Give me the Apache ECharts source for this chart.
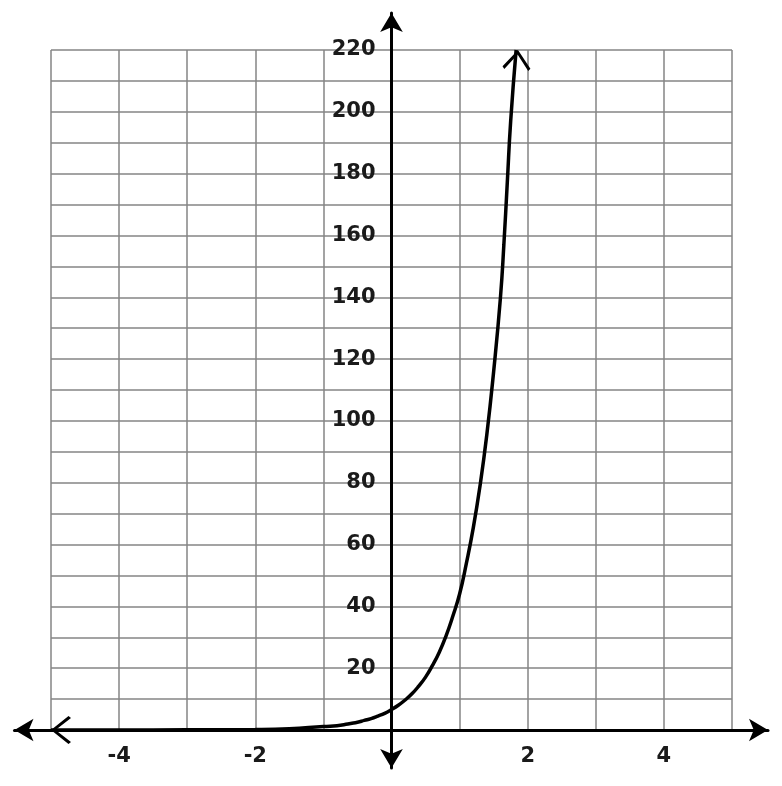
<!DOCTYPE html>
<html>
<head>
<meta charset="utf-8">
<script src="https://cdn.jsdelivr.net/npm/echarts@6/dist/echarts.min.js"></script>
<style>
  html, body { margin: 0; padding: 0; background: #fff; }
  #chart { width: 782px; height: 786px; }
</style>
</head>
<body>
<div id="chart"></div>
<script>
  // curve points
  var curveX = [-5, -4, -3, -2, -1.5, -1, -0.9, -0.8, -0.7, -0.6, -0.5, -0.4, -0.3, -0.2, -0.1,
    0, 0.1, 0.2, 0.3, 0.4, 0.5, 0.6, 0.7, 0.8, 0.9, 1, 1.1, 1.2, 1.3, 1.4, 1.5, 1.6, 1.65, 1.7, 1.75, 1.83]
  var curveY = [0, 0.02, 0.06, 0.15, 0.4, 1.1, 1.2, 1.4, 1.7, 2.1, 2.5, 3.1, 3.7, 4.5, 5.4,
    6.6, 8, 9.7, 11.7, 14.2, 17.1, 20.8, 25.1, 30.4, 36.8, 44, 54, 65.3, 79, 95.6, 116, 140, 157, 177, 197, 220]
  var xTickLabels = [-4, -2, 2, 4]
  var yTickLabels = [20, 40, 60, 80, 100, 120, 140, 160, 180, 200, 220]

  // open arrow head, tip pointing up
  var chevron = 'path://M14,0 L28,17.5 L26,20 L14,4.5 L2,20 L0,17.5 Z'

  var curveData = curveX.map(function (x, i) {
    return [x, curveY[i]]
  })
  curveData[0] = {
    value: curveData[0],
    symbol: chevron,
    symbolSize: [28, 20],
    symbolRotate: 90,
    symbolOffset: [10, 0]
  }
  var last = curveData.length - 1
  curveData[last] = {
    value: curveData[last],
    symbol: chevron,
    symbolSize: [28, 20],
    symbolRotate: -5,
    symbolOffset: [1, 10]
  }

  var labelStyle = {
    fontFamily: 'DejaVu Sans',
    fontWeight: 'bold',
    fontSize: 21,
    color: '#1a1a1a'
  }

  var option = {
    animation: false,
    backgroundColor: '#fff',
    grid: [
      { left: 51, right: 50, top: 50, bottom: 56, outerBoundsMode: 'none' },
      { left: 14.5, right: 14, top: 13, bottom: 18, outerBoundsMode: 'none' }
    ],
    xAxis: [
      {
        type: 'value',
        gridIndex: 0,
        min: -5,
        max: 5,
        interval: 1,
        axisLine: { show: false, onZero: false },
        axisTick: { show: false },
        splitLine: { show: true, lineStyle: { color: '#858585', width: 1.5 } },
        axisLabel: Object.assign({
          margin: 16,
          showMinLabel: true,
          showMaxLabel: true,
          formatter: function (v) {
            return xTickLabels.indexOf(v) >= 0 ? String(v) : ''
          }
        }, labelStyle)
      },
      {
        type: 'value',
        gridIndex: 1,
        min: -5.536,
        max: 5.529,
        axisLine: {
          show: true,
          onZero: true,
          symbol: ['arrow', 'arrow'],
          symbolSize: [17, 19],
          lineStyle: { color: '#000', width: 3 }
        },
        axisTick: { show: false },
        axisLabel: { show: false },
        splitLine: { show: false }
      }
    ],
    yAxis: [
      {
        type: 'value',
        gridIndex: 0,
        position: 'left',
        offset: -340.5, // sits on x = 0
        min: 0,
        max: 220,
        interval: 10,
        axisLine: { show: false, onZero: false },
        axisTick: { show: false },
        splitLine: { show: true, lineStyle: { color: '#858585', width: 1.5 } },
        axisLabel: Object.assign({
          margin: 16,
          padding: [6, 0, 0, 0],
          showMinLabel: true,
          showMaxLabel: true,
          formatter: function (v) {
            return yTickLabels.indexOf(v) >= 0 ? String(v) : ''
          }
        }, labelStyle)
      },
      {
        type: 'value',
        gridIndex: 1,
        min: -12.29,
        max: 231.97,
        axisLine: {
          show: true,
          onZero: true,
          symbol: ['arrow', 'arrow'],
          symbolSize: [17, 19],
          lineStyle: { color: '#000', width: 3 }
        },
        axisTick: { show: false },
        axisLabel: { show: false },
        splitLine: { show: false }
      }
    ],
    series: [
      {
        type: 'line',
        xAxisIndex: 0,
        yAxisIndex: 0,
        data: curveData,
        smooth: 0.5,
        clip: false,
        symbol: 'none',
        showSymbol: true,
        showAllSymbol: true,
        itemStyle: { color: '#000' },
        lineStyle: { color: '#000', width: 3.5 },
        z: 5
      }
    ]
  }

  var chart = echarts.init(document.getElementById('chart'))
  chart.setOption(option)
  window.addEventListener('resize', function () {
    chart.resize()
  })
</script>
</body>
</html>
